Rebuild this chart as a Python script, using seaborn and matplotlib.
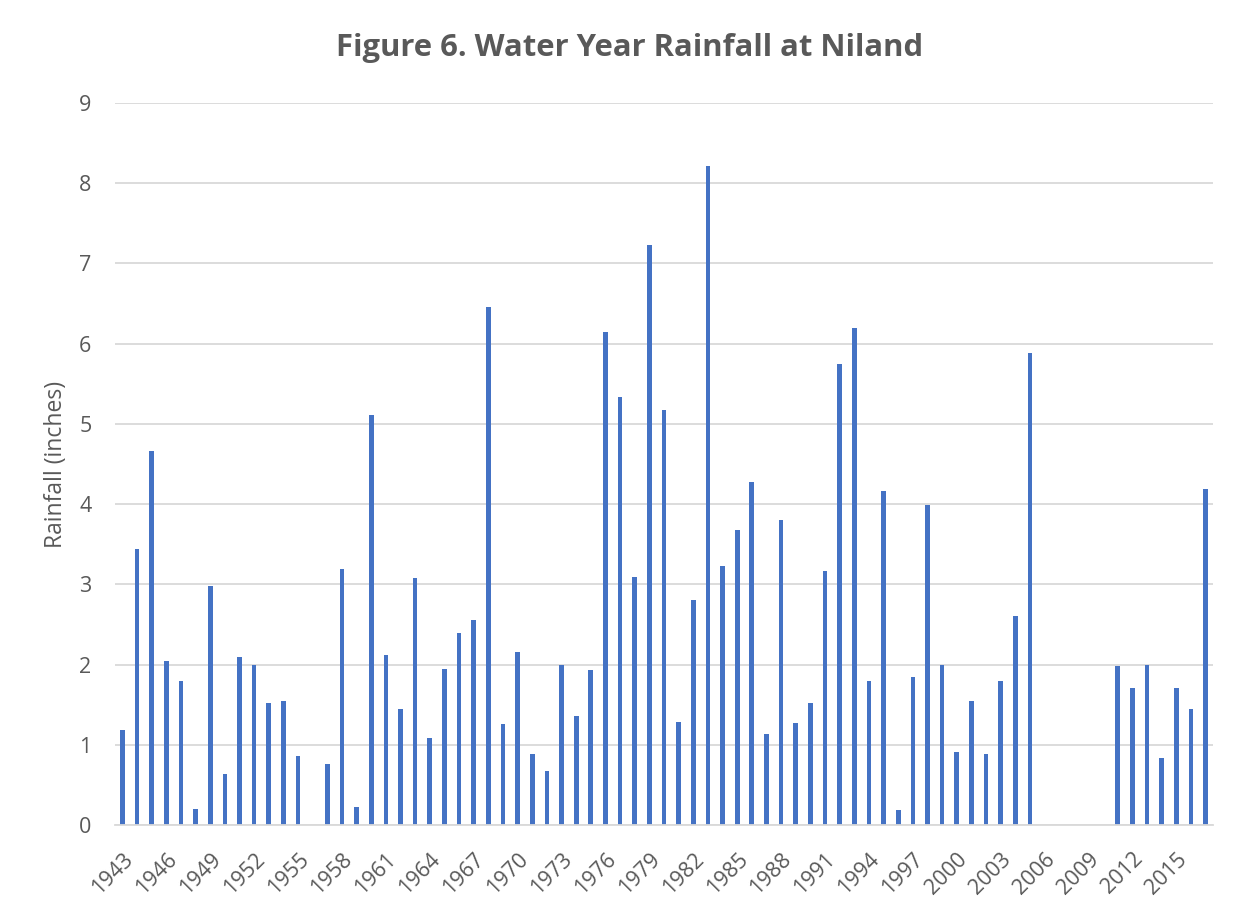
import numpy as np
import pandas as pd
import matplotlib
matplotlib.use("Agg")
import matplotlib.pyplot as plt
import seaborn as sns

# Water years 1943-2017 and annual rainfall at Niland (inches); NaN = no record
years = list(range(1943, 2018))
rainfall = [
    1.19, 3.44, 4.66, 2.05, 1.80, 0.20, 2.98, 0.63, 2.10, 2.00,   # 1943-1952
    1.52, 1.55, 0.86, np.nan, 0.76, 3.19, 0.23, 5.11, 2.12, 1.44,  # 1953-1962
    3.08, 1.08, 1.94, 2.39, 2.55, 6.46, 1.26, 2.16, 0.89, 0.67,   # 1963-1972
    2.00, 1.36, 1.93, 6.15, 5.33, 3.09, 7.23, 5.17, 1.29, 2.81,   # 1973-1982
    8.22, 3.23, 3.68, 4.28, 1.14, 3.80, 1.27, 1.52, 3.17, 5.75,   # 1983-1992
    6.20, 1.80, 4.16, 0.19, 1.84, 3.99, 2.00, 0.91, 1.54, 0.89,   # 1993-2002
    1.80, 2.60, 5.88, np.nan, np.nan, np.nan, np.nan, np.nan, 1.98, 1.71,  # 2003-2012
    2.00, 0.84, 1.71, 1.45, 4.19,                                 # 2013-2017
]
tick_years = list(range(1943, 2018, 3))

title = "Figure 6. Water Year Rainfall at Niland"
ylabel = "Rainfall (inches)"

df = pd.DataFrame({"year": [str(y) for y in years], "rain": rainfall})

sns.set_theme(style="white")
plt.rcParams["font.family"] = ["Open Sans", "DejaVu Sans"]

text_gray = "#595959"
grid_gray = "#d9d9d9"
bar_blue = "#4472C4"

fig = plt.figure(figsize=(12.52, 9.09), dpi=100)
ax = fig.add_axes([0.0919, 0.0924, 0.8769, 0.7943])

sns.barplot(data=df, x="year", y="rain", order=[str(y) for y in years],
            color=bar_blue, saturation=1, width=0.32, ax=ax, errorbar=None,
            edgecolor="none")

ax.set_ylim(0, 9)
ax.set_yticks(range(0, 10))
ax.set_xlim(-0.5, len(years) - 0.5)
ax.yaxis.grid(True, color=grid_gray, linewidth=1.3)
ax.set_axisbelow(True)
for side in ["top", "right", "left"]:
    ax.spines[side].set_visible(False)
ax.spines["bottom"].set_color(grid_gray)
ax.spines["bottom"].set_linewidth(1.3)

tick_pos = [years.index(y) for y in tick_years]
ax.set_xticks(tick_pos)
ax.set_xticklabels([str(y) for y in tick_years], rotation=45, ha="right",
                   rotation_mode="anchor", fontsize=15.5, color=text_gray)
ax.tick_params(axis="x", length=0, pad=17)
ax.tick_params(axis="y", length=0, pad=17, labelsize=15.5, labelcolor=text_gray)

ax.set_xlabel("")
ax.set_ylabel(ylabel, fontsize=16.5, color=text_gray)
ax.yaxis.set_label_coords(-0.043, 0.5)

fig.text(0.503, 0.947, title, ha="center", va="center", fontsize=22.3,
         fontweight="bold", color=text_gray)

fig.savefig("out.png", dpi=100, facecolor="white")
